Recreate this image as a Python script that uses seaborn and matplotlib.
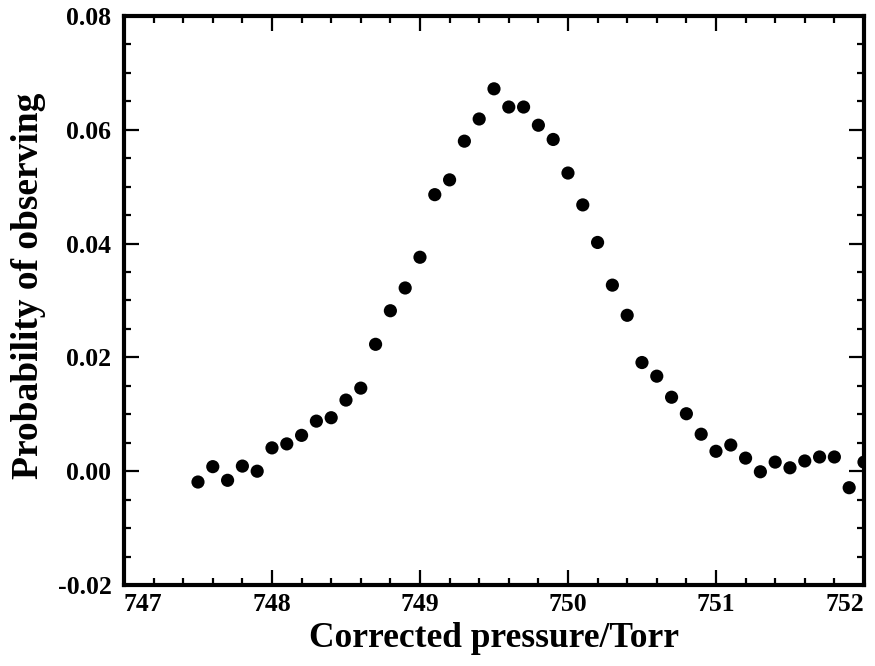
import matplotlib
matplotlib.use('Agg')
import matplotlib.pyplot as plt
import matplotlib.ticker as mticker
import numpy as np
import pandas as pd
import seaborn as sns

# pressure readings (Torr) and probability of observing
pressure = [747.5, 747.6, 747.7, 747.8, 747.9, 748.0, 748.1, 748.2, 748.3, 748.4,
            748.5, 748.6, 748.7, 748.8, 748.9, 749.0, 749.1, 749.2, 749.3, 749.4,
            749.5, 749.6, 749.7, 749.8, 749.9, 750.0, 750.1, 750.2, 750.3, 750.4,
            750.5, 750.6, 750.7, 750.8, 750.9, 751.0, 751.1, 751.2, 751.3, 751.4,
            751.5, 751.6, 751.7, 751.8, 751.9, 752.0]
probability = [-0.0019, 0.0008, -0.0016, 0.0009, 0.0000, 0.0041, 0.0048, 0.0063, 0.0088, 0.0094,
               0.0125, 0.0146, 0.0223, 0.0282, 0.0322, 0.0376, 0.0486, 0.0512, 0.0580, 0.0619,
               0.0672, 0.0640, 0.0640, 0.0608, 0.0583, 0.0524, 0.0468, 0.0402, 0.0327, 0.0274,
               0.0191, 0.0167, 0.0130, 0.0101, 0.0065, 0.0035, 0.0046, 0.0023, -0.0001, 0.0016,
               0.0006, 0.0018, 0.0025, 0.0025, -0.0029, 0.0016]

xticks = [747, 748, 749, 750, 751, 752]
yticks = [-0.02, 0.00, 0.02, 0.04, 0.06, 0.08]

df = pd.DataFrame({'pressure': pressure, 'probability': probability})

sns.set_style('ticks')
plt.rcParams['font.family'] = ['Liberation Serif', 'DejaVu Serif']
plt.rcParams['font.weight'] = 'bold'
for k in ['axes.edgecolor', 'text.color', 'axes.labelcolor', 'xtick.color', 'ytick.color']:
    plt.rcParams[k] = 'black'

fig = plt.figure(figsize=(8.75, 6.66), dpi=100)
ax = fig.add_axes([0.1417, 0.1216, 0.8457, 0.8544])

sns.scatterplot(data=df, x='pressure', y='probability', color='black',
                edgecolor='none', s=90, ax=ax, clip_on=True)

ax.set_xlim(747.0, 752.0)
ax.set_ylim(-0.02, 0.08)
ax.set_xticks(xticks)
ax.set_yticks(yticks)
ax.xaxis.set_minor_locator(mticker.MultipleLocator(0.2))
ax.yaxis.set_minor_locator(mticker.MultipleLocator(0.005))
ax.yaxis.set_major_formatter(mticker.FuncFormatter(lambda v, p: f'{v:.2f}'))

for s in ax.spines.values():
    s.set_linewidth(3)
    s.set_color('black')
    s.set_visible(True)

ax.tick_params(which='both', direction='in', top=True, right=True, width=1.6,
               labelsize=18.5, colors='black')
ax.tick_params(which='major', length=11)
ax.tick_params(which='minor', length=5)
ax.tick_params(axis='y', pad=9)
ax.tick_params(axis='x', pad=6)

for lab in ax.get_xticklabels() + ax.get_yticklabels():
    lab.set_fontweight('bold')
xl = ax.get_xticklabels()
xl[0].set_horizontalalignment('left')
xl[-1].set_horizontalalignment('right')

ax.set_xlabel('Corrected pressure/Torr', fontsize=25.5, fontweight='bold', labelpad=4)
ax.set_ylabel('Probability of observing', fontsize=27, fontweight='bold')
ax.yaxis.set_label_coords(-0.106, 0.525)

fig.savefig('out.png', dpi=100)
